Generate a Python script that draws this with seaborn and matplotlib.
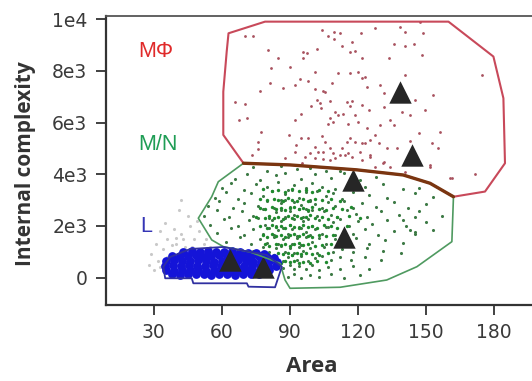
import matplotlib
matplotlib.use('Agg')
import matplotlib.pyplot as plt
import seaborn as sns

# Gates (Area, Internal complexity)
mphi_gate_x = [69.6, 60.7, 60.7, 62.2, 63.0, 79.1, 159.9, 179.7, 184.1, 184.8, 176.0, 162.1, 151.8, 140.0, 119.5, 90.1, 69.6]
mphi_gate_y = [4425, 5520, 7190, 8740, 9450, 9900, 9900, 8550, 6940, 4425, 3330, 3130, 3650, 3970, 4170, 4360, 4425]

mn_gate_x = [69.6, 90.1, 119.5, 140.0, 151.8, 162.1, 161.4, 146.0, 132.7, 112.2, 90.1, 87.9, 85.7, 72.5, 60.7, 55.6, 49.7, 55.6, 58.5, 69.6]
mn_gate_y = [4425, 4360, 4170, 3970, 3650, 3130, 1393, 425, -90, -370, -410, -90, 557, 994, 1200, 1460, 2300, 3130, 3710, 4425]

l_gate_x = [34.3, 35.1, 46.8, 47.5, 71.1, 71.8, 83.5, 86.5, 79.9, 60.7, 46.1, 37.3, 34.3]
l_gate_y = [425, -23, -23, -217, -217, -348, -371, 425, 878, 1187, 1110, 800, 425]

# Reference populations (triangles)
tri_x = [138.6, 143.7, 118.0, 113.9, 63.7, 78.1]
tri_y = [7195, 4746, 3779, 1563, 685, 425]

# MPhi events
red_x = [70.3, 74.0, 80.6, 85.0, 81.8, 90.1, 96.0, 97.5, 96.0, 101.9, 104.4, 107.0, 109.6, 112.1, 109.6,
         113.2, 117.3, 116.6, 118.8, 121.3, 121.7, 81.3, 76.9, 87.2, 92.3, 94.5, 98.2, 101.1, 101.1, 104.8,
         108.8, 111.4, 116.6, 120.2, 121.7, 65.9, 70.3, 67.7, 71.3, 95.0, 99.2, 101.9, 103.3, 105.5, 103.8,
         107.7, 110.0, 111.4, 113.6, 115.1, 117.3, 116.6, 118.8, 121.7, 92.3, 107.7, 109.2, 107.0, 115.8, 120.2,
         77.4, 75.9, 76.2, 73.2, 89.7, 92.6, 95.0, 98.2, 101.1, 104.1, 102.6, 105.5, 107.7, 109.2, 112.9,
         115.1, 116.6, 118.8, 121.7, 114.3, 117.3, 101.1, 104.8, 110.0, 87.9, 92.3, 96.7,
         127.6, 138.6, 140.8, 148.9, 135.7, 140.8, 144.5, 133.5, 148.2, 123.2, 123.9, 129.8, 140.8, 131.3, 153.3,
         145.2, 131.3, 139.4, 143.0, 149.6, 124.7, 134.2, 135.7, 129.8, 123.9, 156.2, 146.7, 127.6, 125.4, 123.2,
         129.1, 143.0, 152.6, 155.5, 132.7, 137.1, 125.4, 131.3, 151.8, 127.6, 140.8, 161.4, 171.6, 174.6, 147.4,
         98.9, 104.8, 112.1, 115.8, 120.9, 121.7, 125.3, 107.7, 95.2, 131.2, 134.1, 151.8, 160.6]
red_y = [9362, 9362, 8808, 8485, 8099, 8163, 8743, 8679, 8511, 8833, 9581, 9362, 9517, 9452, 9233,
         8975, 9130, 8743, 8769, 9452, 8485, 7544, 7222, 7325, 7454, 7686, 7609, 7970, 7299, 7222,
         7519, 7905, 7905, 7970, 7712, 6784, 6707, 6101, 6165, 6320, 6655, 6874, 6745, 7196, 6552,
         6835, 6423, 6294, 6320, 6810, 6835, 6655, 6294, 6681, 6101, 6165, 6036, 5933, 5933, 6036,
         5650, 5263, 4966, 4747, 5521, 5134, 5418, 5392, 5070, 5495, 4876, 5237, 5005, 4812, 5005,
         5237, 5392, 5263, 5198, 4747, 4683, 4644, 4593, 4618, 4618, 4876, 4683,
         9645, 9710, 9517, 9452, 9027, 8975, 9027, 8511, 8614, 7776, 7390, 7454, 7841, 7132, 7067,
         6874, 6616, 6423, 6294, 6487, 6487, 6101, 5907, 5907, 5778, 5650, 5585, 5521, 5327, 5198,
         5198, 5289, 5198, 5031, 5005, 5005, 4747, 4489, 4296, 4296, 4103, 3845, 3999, 7841, 9903,
         4810, 4875, 4746, 4810, 4875, 4552, 4681, 4552, 4423, 4423, 4295, 4359, 3843]

# M/N events (whole gate)
green_x = [74, 80, 86, 93, 99, 106, 112,
           66, 71, 77, 84, 88, 95, 101, 108, 114, 121, 128,
           60, 64, 70, 75, 80, 85, 89, 92, 97, 100, 104, 110, 116, 123, 131, 140, 147,
           57, 62, 67, 73, 78, 82, 86, 88, 91, 94, 97, 99, 102, 106, 109, 113, 118, 125, 133, 145, 153,
           54, 59, 65, 70, 76, 80, 83, 86, 88, 90, 92, 95, 97, 99, 101, 104, 107, 110, 114, 118, 122, 128, 136, 142, 150,
           52, 58, 63, 69, 74, 78, 81, 84, 86, 88, 90, 92, 94, 96, 98, 100, 102, 105, 108, 111, 115, 119, 124, 130, 138, 147, 157,
           55, 61, 67, 72, 76, 79, 82, 84, 86, 88, 90, 92, 94, 96, 98, 100, 103, 106, 109, 112, 116, 120, 126, 133, 141, 150,
           58, 64, 70, 74, 78, 81, 83, 85, 87, 89, 91, 93, 95, 97, 99, 101, 104, 107, 110, 114, 118, 123, 129, 136, 145,
           62, 68, 73, 77, 80, 83, 85, 87, 89, 91, 93, 95, 97, 100, 103, 106, 110, 114, 119, 125, 132, 140,
           74, 78, 81, 84, 86, 88, 90, 92, 94, 96, 99, 102, 105, 109, 113, 118, 124, 131, 139,
           81, 84, 87, 89, 91, 93, 95, 98, 101, 104, 108, 112, 117, 123, 130,
           87, 90, 92, 94, 97, 100, 103, 107, 112, 118, 125,
           89, 92, 95, 99, 103, 108, 114, 121,
           145.2, 143.0, 153.2, 140.0, 145.2]
green_y = [4280, 4130, 4310, 4200, 4250, 4120, 4140,
           3820, 4010, 3780, 3960, 4060, 3800, 3990, 3850, 4050, 3790, 3880,
           3450, 3670, 3400, 3620, 3500, 3700, 3380, 3590, 3460, 3680, 3520, 3410, 3640, 3490, 3620, 3420, 3450,
           3100, 3320, 3060, 3280, 3150, 3350, 3020, 3250, 3390, 3080, 3300, 3010, 3340, 3140, 3270, 3050, 3310, 3180, 3080, 3270, 3120,
           2760, 2960, 2700, 2900, 2780, 2980, 2690, 2880, 3000, 2720, 2910, 2800, 2660, 2950, 2840, 2710, 2920, 2780, 2960, 2680, 2890, 2750, 2930, 2690, 2850,
           2400, 2620, 2340, 2580, 2390, 2640, 2320, 2530, 2630, 2360, 2590, 2420, 2650, 2330, 2560, 2610, 2380, 2580, 2440, 2330, 2620, 2480, 2360, 2590, 2420, 2560, 2380,
           2050, 2260, 1990, 2220, 2290, 2020, 2240, 1980, 2200, 2290, 2040, 2250, 1970, 2180, 2280, 2010, 2230, 1960, 2170, 2270, 2000, 2210, 2060, 2240, 2000, 2160,
           1720, 1920, 1660, 1870, 1690, 1940, 1640, 1840, 1930, 1670, 1880, 1620, 1920, 1760, 1640, 1890, 1700, 1950, 1660, 1850, 1700, 1900, 1650, 1820, 1700,
           1370, 1560, 1310, 1510, 1350, 1590, 1300, 1490, 1570, 1320, 1530, 1270, 1580, 1380, 1540, 1290, 1480, 1340, 1550, 1300, 1460, 1340,
           1040, 1170, 980, 1130, 1210, 1000, 1160, 940, 1200, 1020, 1150, 960, 1190, 1010, 1120, 980, 1160, 1050, 970,
           760, 840, 660, 790, 860, 680, 820, 630, 780, 850, 670, 810, 700, 790, 670,
           370, 480, 330, 440, 350, 490, 300, 430, 340, 460, 330,
           40, 140, 0, 110, 20, 150, -10, 90,
           2361, 1845, 1845, 2232, 1781]

# M/N events (dense core)
core_x = [78, 82, 85, 88, 91, 94, 97, 100, 103, 107,
          77, 80, 83, 85, 87, 89, 91, 93, 96, 98, 101, 104, 108, 112,
          77, 79, 82, 84, 86, 88, 90, 92, 94, 96, 98, 100, 103, 106, 109, 113, 117,
          75, 79, 81, 83, 85, 87, 89, 91, 93, 95, 97, 99, 101, 104, 107, 111, 116, 121,
          77, 80, 82, 84, 86, 88, 90, 92, 94, 96, 98, 100, 102, 105, 108, 111, 115,
          78, 80, 82, 84, 86, 88, 90, 92, 94, 96, 98, 100, 103, 106, 109, 113,
          79, 81, 84, 86, 88, 90, 92, 94, 96, 98, 101, 104, 108, 112,
          80, 83, 85, 87, 89, 91, 93, 95, 97, 100, 103, 107,
          84, 86, 88, 90, 92, 94, 96, 99, 102, 106]
core_y = [3420, 3350, 3390, 3330, 3440, 3360, 3400, 3320, 3380, 3350,
          3050, 2990, 3060, 3010, 2970, 3070, 3000, 2960, 3040, 2980, 3060, 2990, 3030, 2970,
          2700, 2640, 2730, 2660, 2710, 2620, 2690, 2740, 2650, 2700, 2630, 2720, 2670, 2610, 2700, 2650, 2720,
          2350, 2290, 2380, 2310, 2360, 2280, 2400, 2320, 2370, 2290, 2350, 2410, 2300, 2360, 2280, 2340, 2390, 2310,
          1990, 1940, 2030, 1960, 2010, 1930, 2040, 1970, 1920, 2020, 1950, 2000, 1940, 2030, 1980, 1930, 2010,
          1650, 1590, 1680, 1610, 1660, 1580, 1640, 1700, 1600, 1670, 1620, 1560, 1660, 1610, 1650, 1590,
          1300, 1240, 1320, 1260, 1310, 1230, 1290, 1340, 1250, 1300, 1220, 1280, 1320, 1250,
          950, 890, 960, 910, 970, 880, 940, 900, 960, 920, 880, 940,
          620, 570, 640, 590, 650, 560, 620, 580, 630, 600]

# Lymphocyte events
blue_x = [43, 47, 50.5, 54, 57.5, 61, 64.5, 68, 71.5, 75, 78.5,
          38, 41.5, 45, 48.5, 52, 55.5, 59, 62.5, 66, 69.5, 73, 76.5, 80, 83,
          35.5, 39, 42.5, 46, 49.5, 53, 56.5, 60, 63.5, 67, 70.5, 74, 77.5, 81, 84.5,
          35, 38.5, 42, 45.5, 49, 52.5, 56, 59.5, 63, 66.5, 70, 73.5, 77, 80.5, 84,
          35.5, 39, 42.5, 46, 49.5, 53, 56.5, 60, 63.5, 67, 70.5, 74, 77.5, 81,
          38, 41.5, 45, 48.5, 52, 55.5, 59, 62.5, 66, 69.5, 73, 76.5]
blue_y = [980, 1020, 1000, 1040, 1010, 990, 1030, 1000, 970, 940, 900,
          820, 850, 830, 860, 810, 840, 870, 820, 850, 830, 800, 840, 790, 760,
          640, 670, 650, 630, 680, 650, 620, 660, 640, 690, 650, 620, 660, 630, 600,
          460, 480, 450, 490, 470, 440, 480, 460, 500, 450, 470, 490, 440, 470, 450,
          290, 270, 310, 280, 300, 260, 290, 310, 270, 300, 280, 260, 300, 280,
          150, 120, 140, 160, 130, 110, 150, 140, 120, 150, 130, 150]

# debris events
gray_x = [30, 32, 34, 36, 38, 40, 42, 44, 46, 48, 50, 52, 39, 45, 33, 29, 31, 35, 41, 37,
          43, 47, 49, 51, 53, 55, 36, 28, 42, 54, 46, 58, 44, 40, 38, 33]
gray_y = [300, 650, 1100, 1500, 900, 1300, 1700, 1200, 2000, 1500, 1800, 1300, 1900, 2400, 1800, 900, 1300, 2100, 2600, 300,
          1500, 1200, 2200, 1100, 1500, 1200, 800, 500, 3000, 900, 700, 1100, 400, 1550, 1250, 400]

x_ticks = [30, 60, 90, 120, 150, 180]
y_ticks = [0, 2000, 4000, 6000, 8000, 10000]
y_tick_labels = ['0', '2e3', '4e3', '6e3', '8e3', '1e4']

sns.set_style('ticks')
plt.rcParams['font.family'] = ['DejaVu Sans']

fig = plt.figure(figsize=(5.32, 3.81), dpi=100)
ax = fig.add_axes([0.1987, 0.1995, 0.8013, 0.7593])

# events
sns.scatterplot(x=gray_x, y=gray_y, ax=ax, s=5, color='#c9c9c9', linewidth=0, legend=False)
sns.scatterplot(x=green_x, y=green_y, ax=ax, s=5, color='#3d7a45', linewidth=0, legend=False)
sns.scatterplot(x=core_x, y=core_y, ax=ax, s=6, color='#1f8a2e', linewidth=0, legend=False)
sns.scatterplot(x=red_x, y=red_y, ax=ax, s=4, color='#a8525e', linewidth=0, legend=False)

# gates
ax.plot(mphi_gate_x, mphi_gate_y, color='#c8495a', lw=1.5)
ax.plot(mn_gate_x, mn_gate_y, color='#4f9a60', lw=1.2)
ax.plot(mn_gate_x[:6], mn_gate_y[:6], color='#7a3510', lw=2.4)
ax.plot(l_gate_x, l_gate_y, color='#3030a0', lw=1.3)

sns.scatterplot(x=blue_x, y=blue_y, ax=ax, s=40, color='#1414d8', linewidth=0, legend=False)

# triangles
sns.scatterplot(x=tri_x, y=tri_y, ax=ax, s=260, marker='^', color='#262626', linewidth=0, legend=False)

# gate labels
ax.text(23.2, 8742, 'MΦ', color='#e02a2a', fontsize=15.5, va='center', ha='left', family='Liberation Sans')
ax.text(23.2, 5133, 'M/N', color='#1f9d55', fontsize=15.5, va='center', ha='left', family='Liberation Sans')
ax.text(24.1, 1973, 'L', color='#3535b5', fontsize=15.5, va='center', ha='left', family='Liberation Sans')

ax.set_xlim(8.9, 196.7)
ax.set_ylim(-1056, 10130)
ax.set_xticks(x_ticks)
ax.set_yticks(y_ticks)
ax.set_yticklabels(y_tick_labels)
ax.tick_params(length=7.2, width=1.3, color='#333333', labelsize=13.5, labelcolor='#3a3a3a', pad=6)

ax.set_xlabel('Area', fontsize=16, fontweight='bold', family='Open Sans', color='#333333')
ax.xaxis.set_label_coords(0.484, -0.211)
ax.xaxis.label.set_va('center')
ax.set_ylabel('Internal complexity', fontsize=15, fontweight='bold', family='Open Sans', color='#333333')
ax.yaxis.set_label_coords(-0.189, 0.489)
ax.yaxis.label.set_va('center')

ax.spines['right'].set_visible(False)
for side in ['left', 'bottom']:
    ax.spines[side].set_linewidth(1.6)
    ax.spines[side].set_color('#333333')
ax.spines['top'].set_linewidth(1.3)
ax.spines['top'].set_color('#555555')

fig.savefig('out.png', dpi=100)
